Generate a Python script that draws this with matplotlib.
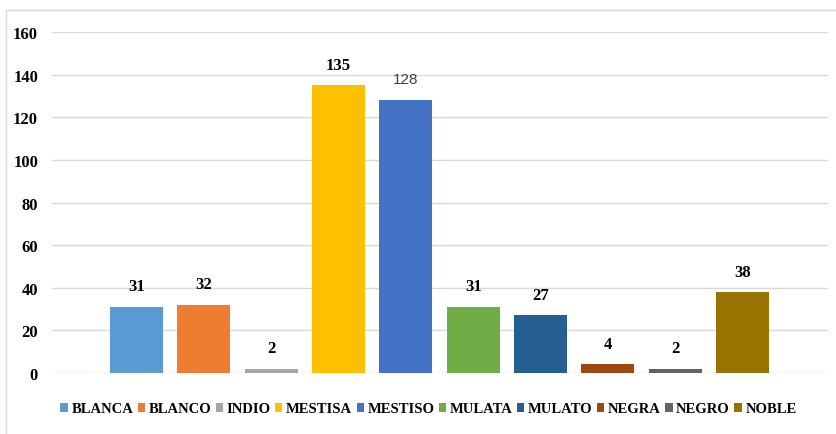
import matplotlib.pyplot as plt
from matplotlib.patches import Rectangle

categories = ["BLANCA", "BLANCO", "INDIO", "MESTISA", "MESTISO",
              "MULATA", "MULATO", "NEGRA", "NEGRO", "NOBLE"]
values = [31, 32, 2, 135, 128, 31, 27, 4, 2, 38]
colors = ["#5B9BD5", "#ED7D31", "#A5A5A5", "#FFC000", "#4472C4",
          "#70AD47", "#255E91", "#9E480E", "#636363", "#997300"]
y_ticks = [0, 20, 40, 60, 80, 100, 120, 140, 160]

plt.rcParams['font.family'] = ['Liberation Serif', 'DejaVu Serif']

fig = plt.figure(figsize=(8.36, 4.35), dpi=100)
ax = fig.add_axes([52 / 836, 1 - 374 / 435, 776 / 836, 341 / 435])

# outer chart border
fig.patches.append(Rectangle((6 / 836, -0.01), 1.0, 1 - 11 / 435 + 0.01,
                             transform=fig.transFigure, fill=False,
                             edgecolor="#D9D9D9", linewidth=1))

x = list(range(len(categories)))
bars = ax.bar(x, values, width=0.787, color=colors, label=categories, zorder=3)

for i, (b, v) in enumerate(zip(bars, values)):
    if categories[i] == "MESTISO":
        ax.annotate(str(v), (b.get_x() + b.get_width() / 2, v),
                    xytext=(0, 10), textcoords="offset points",
                    ha="center", va="bottom", fontsize=11,
                    family=["Liberation Sans"], color="#404040")
    else:
        ax.annotate(str(v), (b.get_x() + b.get_width() / 2, v),
                    xytext=(0, 9), textcoords="offset points",
                    ha="center", va="bottom", fontsize=12,
                    fontweight="bold", color="#000000")

ax.set_xlim(-1.256, 10.27)
ax.set_ylim(0, 160)
ax.set_yticks(y_ticks)
ax.set_xticks([])
ax.tick_params(axis="y", length=0, pad=10, labelsize=12)
for lab in ax.get_yticklabels():
    lab.set_fontweight("bold")
ax.grid(axis="y", color="#D9D9D9", linewidth=1, zorder=0)
for s in ax.spines.values():
    s.set_visible(False)

fig.legend(handles=bars, labels=categories, ncol=10, loc="center",
           bbox_to_anchor=(428.5 / 836, 1 - 410 / 435), frameon=False,
           handlelength=0.5, handleheight=0.6, handletextpad=0.25,
           columnspacing=0.3, prop={"size": 10.5, "weight": "bold"})

fig.savefig("out.png", dpi=100)
